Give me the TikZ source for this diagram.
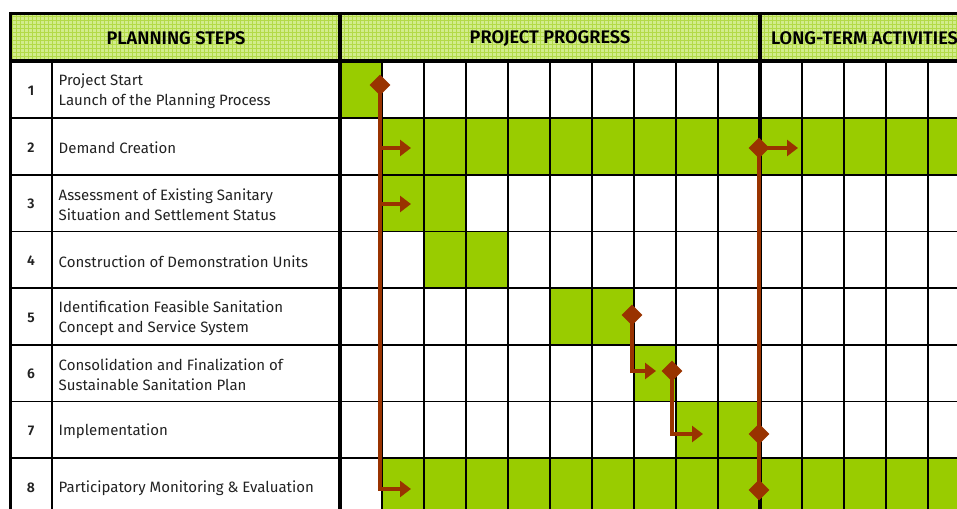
\documentclass[tikz,border=0pt]{standalone}
\usepackage{fontspec}
\setmainfont{Fira Sans}[BoldFont=* SemiBold]
\usetikzlibrary{shapes.geometric,arrows.meta}
\definecolor{pgreen}{HTML}{99CC00}
\definecolor{brn}{HTML}{993300}
\definecolor{hdr}{HTML}{D2EC8C}
\definecolor{hdrline}{HTML}{B3DA48}
\definecolor{txt}{HTML}{222222}
\begin{document}
\begin{tikzpicture}[x=1pt,y=-1pt,
  gridline/.style={line width=1.6pt, black},
  thickline/.style={line width=3.6pt, black},
  patline/.style={line width=0.9pt, hdrline},
  conn/.style={line width=4pt, brn},
  conntip/.style={conn, -{Triangle[length=11pt,width=16pt]}},
  ms/.style={diamond, fill=brn, inner sep=0pt, minimum width=21pt, minimum height=21pt},
  steptext/.style={anchor=west, font=\fontsize{15}{20}\selectfont, align=left, text=txt, inner sep=0pt},
  numtext/.style={font=\bfseries\fontsize{14}{16}\selectfont, text=txt},
  headtext/.style={font=\bfseries\fontsize{18.2}{20}\selectfont, text=black}]
\useasboundingbox (0,0) rectangle (957,508);
\clip (0,0) rectangle (957,508);
% header background with fine grid pattern
\fill[hdr] (10,13.5) rectangle (1000,61);
\foreach \x in {12,16,...,996} \draw[patline] (\x,13.5) -- (\x,61);
\foreach \y in {16,20,...,60} \draw[patline] (10,\y) -- (1000,\y);
% green cells
\foreach \r/\a/\b in {1/0/1, 2/1/16, 3/1/3, 4/2/4, 5/5/7, 6/7/8, 7/8/10, 8/1/16}
  \fill[pgreen] ({340+42*\a},{61.3+56.7*(\r-1)}) rectangle ({340+42*\b},{61.3+56.7*\r});
% grid
\foreach \j in {1,...,7} \draw[gridline] (10,{61.3+56.7*\j}) -- (1000,{61.3+56.7*\j});
\foreach \i in {1,...,9,11,12,13,14,15} \draw[gridline] ({340+42*\i},61) -- ({340+42*\i},520);
\draw[gridline] (52,61) -- (52,520);
\draw[line width=3pt] (10.5,12) -- (10.5,520);
\draw[thickline] (9,13.5) -- (1000,13.5);
\draw[thickline] (9,61) -- (1000,61);
\draw[thickline] (340,12) -- (340,520);
\draw[thickline] (760,12) -- (760,520);
% header texts
\node[headtext] (h1) at (176,38.5) {PLANNING STEPS};
\node[headtext] (h2) at (550,38.5) {PROJECT PROGRESS};
\node[headtext, anchor=west, inner sep=0pt] (h3) at (771,38.5) {LONG-TERM ACTIVITIES};
% numbers and steps
\foreach \j/\t in {1/{Project Start\\Launch of the Planning Process},
  2/{Demand Creation},
  3/{Assessment of Existing Sanitary\\Situation and Settlement Status},
  4/{Construction of Demonstration Units},
  5/{Identification Feasible Sanitation\\Concept and Service System},
  6/{Consolidation and Finalization of\\Sustainable Sanitation Plan},
  7/{Implementation},
  8/{Participatory Monitoring \& Evaluation}} {
  \node[numtext] (n\j) at (31,{61.3+56.7*(\j-0.5)+1}) {\j};
  \node[steptext] (s\j) at (58.5,{61.3+56.7*(\j-0.5)+1.5}) {\t};
}
% milestones and connectors
\node[ms] (m1) at (380,85) {};
\coordinate (t2) at (411,148);
\coordinate (t3) at (411,204);
\coordinate (t8) at (411,489);
\draw[conntip] (m1.center) |- (t2);
\draw[conntip] (m1.center) |- (t3);
\draw[conntip] (m1.center) |- (t8);
\node[ms] (m5) at (632,315) {};
\coordinate (t6) at (656,371);
\draw[conntip] (m5.center) |- (t6);
\node[ms] (m6) at (672,371) {};
\coordinate (t7) at (703,434);
\draw[conntip] (m6.center) |- (t7);
\node[ms] (m2) at (759,148) {};
\node[ms] (m7) at (759,434) {};
\node[ms] (m8) at (759,490) {};
\coordinate (t2b) at (798,148);
\draw[conn] (m2.center) -- (m7.center) -- (m8.center);
\draw[conntip] (m2.center) -- (t2b);
\end{tikzpicture}
\end{document}
